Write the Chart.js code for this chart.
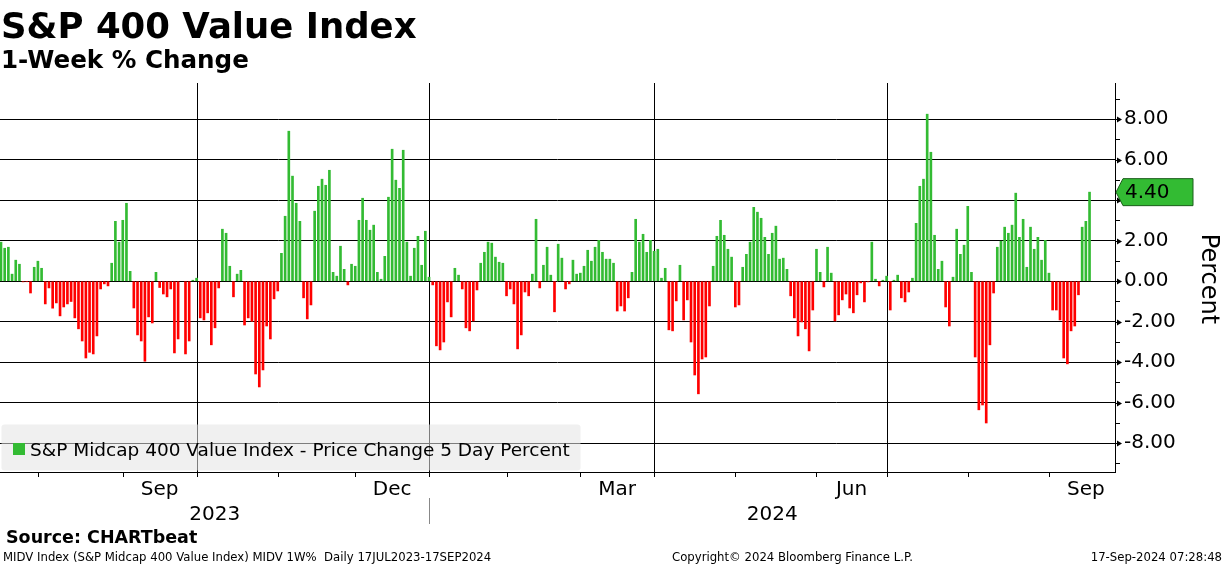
<!DOCTYPE html>
<html><head><meta charset="utf-8">
<script src="https://cdn.jsdelivr.net/npm/chart.js@4"></script>
<style>html,body{margin:0;padding:0;background:#fff;overflow:hidden}canvas{display:block}</style>
</head><body>
<canvas id="c" width="1224" height="566"></canvas>
<script>
// ---- data ----
const startDate = '2023-07-17';
const calendarEnd = '2024-09-30';
const holidays = ['2023-09-04','2023-11-23','2023-12-25','2024-01-01','2024-01-15','2024-02-19',
  '2024-03-29','2024-05-27','2024-06-19','2024-07-04','2024-09-02'];
// 1-week % change, one per trading day from 17 Jul 2023 to 17 Sep 2024
const values = [
  1.93,1.63,1.68,0.35,1.04,0.84,-0.03,-0.02,-0.58,0.69,
  0.99,0.64,-1.12,-0.33,-1.33,-1.07,-1.71,-1.27,-1.12,-1.00,
  -1.81,-2.35,-2.95,-3.79,-3.51,-3.59,-2.70,-0.38,-0.13,-0.23,
  0.89,2.96,1.93,3.01,3.85,0.49,-1.32,-2.65,-2.95,-3.95,
  -1.76,-2.06,0.44,-0.31,-0.63,-0.77,-0.38,-3.54,-2.85,null,
  -3.59,-2.95,0.05,0.15,-1.81,-1.91,-1.56,-3.14,-2.30,-0.33,
  2.57,2.37,0.74,-0.77,0.35,0.54,-2.16,-1.81,-1.98,-4.58,
  -5.22,-4.38,-2.21,-2.85,-0.87,-0.48,1.38,3.21,7.41,5.19,
  3.85,2.96,-0.82,-1.86,-1.17,3.46,4.69,5.04,4.74,5.48,
  0.44,0.25,1.73,0.59,-0.18,0.84,0.74,3.01,4.10,3.01,
  2.52,2.77,0.44,0.10,1.23,4.15,6.52,4.99,4.59,6.47,
  1.93,0.25,1.63,2.22,0.79,2.47,0.20,-0.18,-3.19,-3.39,
  -3.00,-1.02,-1.76,0.64,0.30,-0.38,-2.30,-2.45,-1.96,-0.43,
  0.89,1.43,1.93,1.88,1.19,0.94,0.89,-0.72,-0.38,-1.12,
  -3.34,-2.65,-0.53,-0.72,0.35,3.06,-0.33,0.79,1.68,0.30,
  -1.51,1.83,1.14,-0.38,-0.13,1.04,0.35,0.40,0.74,1.53,
  0.99,1.68,2.02,1.43,1.09,1.09,0.89,-1.47,-1.22,-1.47,
  -0.82,0.44,3.06,1.93,2.32,1.43,2.02,1.48,1.58,0.15,
  0.64,-2.40,-2.45,-0.97,0.79,-1.91,-0.92,-3.00,-4.63,-5.56,
  -3.84,-3.74,-1.22,0.74,2.22,3.01,2.27,1.58,1.19,-1.27,
  -1.17,0.69,1.33,1.93,3.65,3.41,3.11,2.17,1.33,2.37,
  2.72,1.09,1.14,0.59,-0.72,-1.81,-2.70,-2.01,-2.35,-3.44,
  -1.42,1.58,0.44,-0.28,1.68,0.40,-1.96,-1.66,-0.92,-0.63,
  -1.32,-1.56,-0.67,-0.08,-1.02,-0.03,1.93,0.10,-0.23,0.05,
  0.25,-1.42,0.05,0.30,-0.82,-1.02,-0.53,0.15,2.86,4.69,
  5.04,8.25,6.37,2.27,0.59,0.99,-1.27,-2.21,0.20,2.57,
  1.33,1.78,3.70,0.44,-3.74,-6.35,-6.11,-7.00,-3.14,-0.58,
  1.68,1.98,2.67,2.37,2.77,4.35,2.17,3.06,0.69,2.67,
  1.58,2.17,1.04,2.02,0.40,-1.42,-1.42,-1.91,-3.79,-4.08,
  -2.45,-2.21,-0.67,2.67,2.96,4.40
];
const yTicks = [-8,-6,-4,-2,0,2,4,6,8];
const monthLabels = [['2023-09','Sep'],['2023-12','Dec'],['2024-03','Mar'],['2024-06','Jun'],['2024-09','Sep']];
const quarterMonths = ['2023-09','2023-12','2024-03','2024-06'];
const yearLabels = ['2023','2024'];
const seriesName = 'S&P Midcap 400 Value Index - Price Change 5 Day Percent';
const lastValueText = '4.40';

// ---- trading calendar ----
const tradingDays = [];
(function(){
  const d = new Date(startDate + 'T00:00:00Z'), end = new Date(calendarEnd + 'T00:00:00Z');
  while (d <= end) {
    const s = d.toISOString().slice(0,10), wd = d.getUTCDay();
    if (wd !== 0 && wd !== 6 && !holidays.includes(s)) tradingDays.push(s);
    d.setUTCDate(d.getUTCDate()+1);
  }
})();
const dates = tradingDays.slice(0, values.length);
const monthEnd = {};   // month key -> index of last trading day
tradingDays.forEach((s,i)=>{ monthEnd[s.slice(0,7)] = i; });
const monthKeys = Object.keys(monthEnd);

const GREEN = '#33bb33', RED = '#ff0000';
const FONT = '"DejaVu Sans", Verdana, sans-serif';
const X_MIN = -0.27, X_MAX = 301.9;

const overlay = {
  id: 'overlay',
  beforeDatasetsDraw(chart){
    const {ctx, chartArea:a} = chart, x = chart.scales.x;
    ctx.save(); ctx.strokeStyle = '#000'; ctx.lineWidth = 1;
    quarterMonths.forEach(k=>{
      const px = Math.round(x.getPixelForValue(monthEnd[k])) + 0.5;
      ctx.beginPath(); ctx.moveTo(px, a.top); ctx.lineTo(px, a.bottom); ctx.stroke();
    });
    ctx.restore();
  },
  afterDraw(chart){
    const {ctx, chartArea:a} = chart, x = chart.scales.x, y = chart.scales.y;
    ctx.save();
    ctx.strokeStyle = '#000'; ctx.fillStyle = '#000'; ctx.lineWidth = 1;
    // bottom axis
    ctx.beginPath(); ctx.moveTo(a.left, a.bottom + 0.5); ctx.lineTo(a.right + 1, a.bottom + 0.5); ctx.stroke();
    monthKeys.forEach(k=>{
      const i = monthEnd[k];
      if (i < X_MIN || i > X_MAX) return;
      const px = Math.round(x.getPixelForValue(i)) + 0.5;
      ctx.beginPath(); ctx.moveTo(px, a.bottom); ctx.lineTo(px, a.bottom + 5); ctx.stroke();
    });
    // month labels
    ctx.font = '20px ' + FONT; ctx.textAlign = 'center'; ctx.textBaseline = 'alphabetic';
    monthLabels.forEach(([k,t])=>{
      const idx = monthKeys.indexOf(k);
      const c = (monthEnd[monthKeys[idx-1]] + monthEnd[k]) / 2;
      ctx.fillText(t, x.getPixelForValue(c), 495);
    });
    // year labels and separator
    const sep = Math.round(x.getPixelForValue(monthEnd['2023-12'])) + 0.5;
    ctx.fillText(yearLabels[0], (a.left + sep) / 2, 520);
    ctx.fillText(yearLabels[1], (sep + a.right) / 2, 520);
    ctx.strokeStyle = '#888';
    ctx.beginPath(); ctx.moveTo(sep, 498); ctx.lineTo(sep, 524); ctx.stroke();
    ctx.strokeStyle = '#000';
    // right axis minor ticks and arrows
    for (let v = -9; v <= 9; v += 2) {
      const py = Math.round(y.getPixelForValue(v)) + 0.5;
      ctx.beginPath(); ctx.moveTo(a.right, py); ctx.lineTo(a.right + 5, py); ctx.stroke();
    }
    yTicks.forEach(v=>{
      const py = Math.round(y.getPixelForValue(v)) + 0.5;
      ctx.beginPath(); ctx.moveTo(a.right, py); ctx.lineTo(a.right + 3, py); ctx.stroke();
      ctx.beginPath(); ctx.moveTo(a.right + 2, py - 3); ctx.lineTo(a.right + 7, py); ctx.lineTo(a.right + 2, py + 3); ctx.closePath(); ctx.fill();
    });
    // axis title
    ctx.save(); ctx.translate(1208, 279); ctx.rotate(Math.PI/2);
    ctx.font = '24px ' + FONT; ctx.textAlign = 'center'; ctx.textBaseline = 'middle';
    ctx.fillText('Percent', 0, 0); ctx.restore();
    // last value tag
    const ty = y.getPixelForValue(values[values.length-1]);
    ctx.beginPath();
    ctx.moveTo(a.right + 1, ty); ctx.lineTo(a.right + 8, ty - 13.5); ctx.lineTo(1193, ty - 13.5);
    ctx.lineTo(1193, ty + 13.5); ctx.lineTo(a.right + 8, ty + 13.5); ctx.closePath();
    ctx.fillStyle = GREEN; ctx.fill(); ctx.strokeStyle = '#1a5e1a'; ctx.stroke();
    ctx.fillStyle = '#000'; ctx.font = '20px ' + FONT; ctx.textAlign = 'left'; ctx.textBaseline = 'middle';
    ctx.fillText(lastValueText, 1125, ty + 1);
    // legend
    ctx.beginPath();
    if (ctx.roundRect) ctx.roundRect(1.5, 424.5, 579, 46, 3); else ctx.rect(1.5, 424.5, 579, 46);
    ctx.fillStyle = 'rgba(228,228,228,0.55)'; ctx.fill();
    ctx.fillStyle = GREEN; ctx.fillRect(13, 443, 12, 12);
    ctx.fillStyle = '#000'; ctx.font = '18.5px ' + FONT; ctx.textAlign = 'left'; ctx.textBaseline = 'alphabetic';
    ctx.fillText(seriesName, 30, 456);
    // titles
    ctx.font = 'bold 35.5px ' + FONT; ctx.fillText('S&P 400 Value Index', 1, 38);
    ctx.font = 'bold 24.6px ' + FONT; ctx.fillText('1-Week % Change', 1, 68);
    // footer
    ctx.font = 'bold 17.5px ' + FONT; ctx.fillText('Source: CHARTbeat', 6, 543);
    ctx.font = '11.7px ' + FONT;
    ctx.fillText('MIDV Index (S&P Midcap 400 Value Index) MIDV 1W%  Daily 17JUL2023-17SEP2024', 3, 561);
    ctx.fillText('Copyright\u00a9 2024 Bloomberg Finance L.P.', 672, 561);
    ctx.textAlign = 'right'; ctx.fillText('17-Sep-2024 07:28:48', 1222, 561);
    ctx.restore();
  }
};

new Chart(document.getElementById('c'), {
  type: 'bar',
  data: {
    datasets: [{
      label: seriesName,
      data: values.map((v,i)=>({x:i, y:v, date:dates[i]})),
      backgroundColor: c => (c.raw && c.raw.y < 0) ? RED : GREEN,
      borderWidth: 0,
      barThickness: 2
    }]
  },
  options: {
    responsive: false, animation: false, devicePixelRatio: 1,
    layout: { padding: { top: 83, bottom: 94, left: 0, right: 0 } },
    plugins: { legend: { display: false }, tooltip: { enabled: false }, title: { display: false } },
    scales: {
      x: { type: 'linear', min: X_MIN, max: X_MAX, display: false, offset: false },
      y: {
        position: 'right', min: -9.42, max: 9.79,
        afterBuildTicks: s => { s.ticks = yTicks.map(v=>({value:v})); },
        afterFit: s => { s.width = 109; },
        ticks: { color: '#000', font: { family: FONT, size: 20 }, padding: 9, autoSkip: false,
                 callback: v => Number(v).toFixed(2) },
        grid: { color: '#000', lineWidth: 1, drawTicks: false },
        border: { display: true, color: '#000', width: 1 }
      }
    }
  },
  plugins: [overlay]
});
</script>
</body></html>
